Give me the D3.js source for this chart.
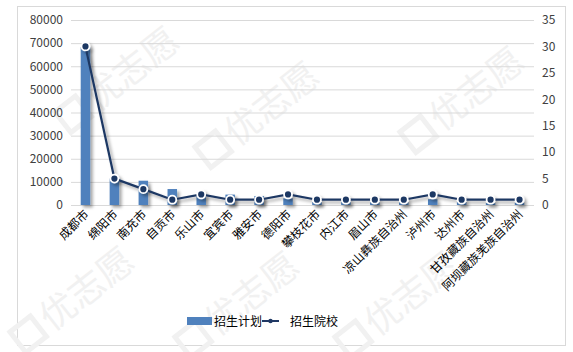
<!DOCTYPE html>
<html><head><meta charset="utf-8">
<script src="https://cdn.jsdelivr.net/npm/d3@7"></script>
<style>body{margin:0;background:#fff;}svg{display:block;font-family:"Noto Sans CJK SC","Microsoft YaHei",sans-serif;}</style>
</head><body>
<svg id="c" width="573" height="352"></svg>
<script>
const categories = ["成都市","绵阳市","南充市","自贡市","乐山市","宜宾市","雅安市","德阳市","攀枝花市","内江市","眉山市","凉山彝族自治州","泸州市","达州市","甘孜藏族自治州","阿坝藏族羌族自治州"];
const plan = [68300, 11500, 10500, 6900, 4000, 4500, 3900, 2900, 1300, 1500, 1200, 1200, 2500, 1300, 800, 1000];
const schools = [30, 5, 3, 1, 2, 1, 1, 2, 1, 1, 1, 1, 2, 1, 1, 1];
const leftTicks = [0,10000,20000,30000,40000,50000,60000,70000,80000];
const rightTicks = [0,5,10,15,20,25,30,35];
const seriesNames = ["招生计划","招生院校"];

const svg = d3.select("#c");
const defs = svg.append("defs");
const f = defs.append("filter").attr("id","sh").attr("x","-50%").attr("y","-50%").attr("width","200%").attr("height","200%");
f.append("feDropShadow").attr("dx",2.5).attr("dy",2.5).attr("stdDeviation",1.5).attr("flood-color","#000").attr("flood-opacity",0.35);

// border
svg.append("rect").attr("x",17.5).attr("y",6.5).attr("width",548).attr("height",339).attr("fill","#fff").attr("stroke","#d9d9d9");

// watermarks
const wm = [[125,75],[265,110],[470,95],[80,295],[245,300],[405,300]];
wm.forEach(([x,y])=>{
  const g = svg.append("g").attr("transform",`translate(${x},${y}) rotate(-38)`);
  g.append("rect").attr("x",-78).attr("y",-14).attr("width",26).attr("height",26).attr("fill","none").attr("stroke","#f1f1f1").attr("stroke-width",5);
  g.append("text").attr("x",-45).attr("y",12).attr("font-size",36).attr("fill","#f1f1f1").text("优志愿");
});

const L = 71, R = 534, T = 20, B = 205;
const x = d3.scaleBand().domain(categories).range([L,R]);
const yL = d3.scaleLinear().domain([0,80000]).range([B,T]);
const yR = d3.scaleLinear().domain([0,35]).range([B,T]);

// gridlines
svg.append("g").selectAll("line").data(leftTicks).join("line")
  .attr("x1",L).attr("x2",R).attr("y1",d=>yL(d)+0.5).attr("y2",d=>yL(d)+0.5)
  .attr("stroke","#d9d9d9").attr("stroke-width",1);

// left axis
const axL = svg.append("g").attr("transform",`translate(${L},0)`)
  .call(d3.axisLeft(yL).tickValues(leftTicks).tickSize(0).tickPadding(8).tickFormat(d3.format("d")));
axL.select(".domain").remove();
axL.selectAll("text").attr("font-size",12).attr("fill","#404040").attr("font-family","'Noto Sans CJK SC',sans-serif");

// right axis
const axR = svg.append("g").attr("transform",`translate(${R},0)`)
  .call(d3.axisRight(yR).tickValues(rightTicks).tickSize(0).tickPadding(8));
axR.select(".domain").remove();
axR.selectAll("text").attr("font-size",12).attr("fill","#404040").attr("font-family","'Noto Sans CJK SC',sans-serif");

// bars
const bw = 9.5;
svg.append("g").attr("filter","url(#sh)").selectAll("rect").data(plan).join("rect")
  .attr("x",(d,i)=>x(categories[i])+x.bandwidth()/2-bw/2)
  .attr("y",d=>yL(d)).attr("width",bw).attr("height",d=>B-yL(d))
  .attr("fill","#4f81bd");

// line
const line = d3.line().x((d,i)=>x(categories[i])+x.bandwidth()/2).y(d=>yR(d));
const lg = svg.append("g").attr("filter","url(#sh)");
lg.append("path").datum(schools).attr("d",line).attr("fill","none").attr("stroke","#1f3864").attr("stroke-width",2.2);
lg.selectAll("circle").data(schools).join("circle")
  .attr("cx",(d,i)=>x(categories[i])+x.bandwidth()/2).attr("cy",d=>yR(d)).attr("r",4)
  .attr("fill","#1f3864").attr("stroke","#fff").attr("stroke-width",1.8);

// x labels
const xa = svg.append("g").attr("transform",`translate(0,${B})`)
  .call(d3.axisBottom(x).tickSize(0).tickPadding(0));
xa.select(".domain").remove();
xa.selectAll("text").attr("font-size",12).attr("fill","#000").attr("font-family","'Noto Sans CJK SC',sans-serif")
  .attr("text-anchor","end").attr("dy",0)
  .attr("transform","translate(4,10) rotate(-45)");

// legend
const lgd = svg.append("g");
lgd.append("rect").attr("x",187).attr("y",317).attr("width",25).attr("height",8).attr("fill","#4f81bd");
lgd.append("text").attr("x",214).attr("y",325.5).attr("font-size",12).attr("fill","#000").text(seriesNames[0]);
lgd.append("line").attr("x1",262).attr("x2",279).attr("y1",321).attr("y2",321).attr("stroke","#1f3864").attr("stroke-width",2);
lgd.append("circle").attr("cx",270.5).attr("cy",321).attr("r",2.2).attr("fill","#1f3864");
lgd.append("text").attr("x",290).attr("y",325.5).attr("font-size",12).attr("fill","#000").text(seriesNames[1]);
</script>
</body></html>
